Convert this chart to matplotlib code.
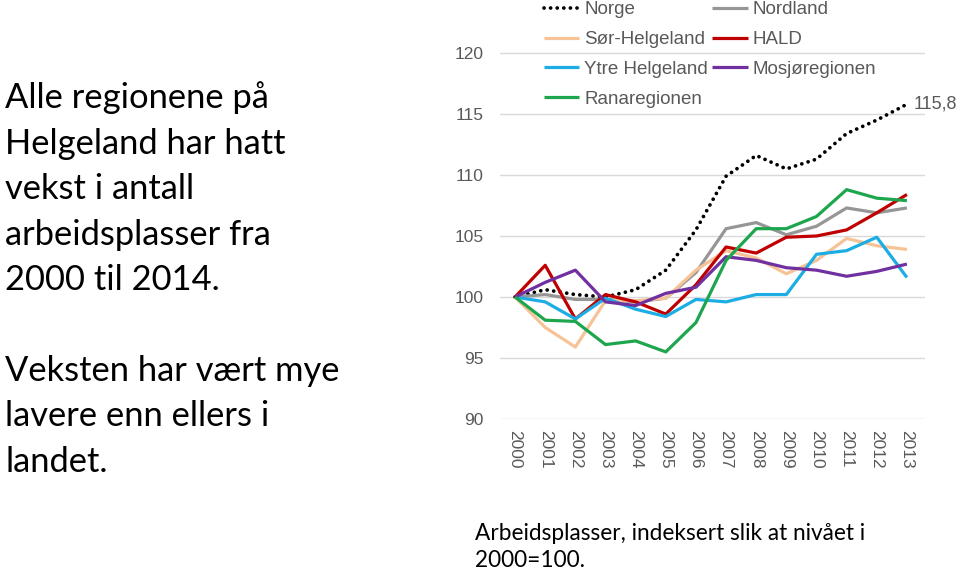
import matplotlib.pyplot as plt
import numpy as np

years = list(range(2000, 2014))

norge = [100, 100.6, 100.2, 100.0, 100.6, 102.2, 105.5, 109.9, 111.6, 110.5, 111.3, 113.4, 114.5, 115.8]
nordland = [100, 100.2, 99.8, 99.8, 99.6, 99.9, 102.0, 105.6, 106.1, 105.1, 105.8, 107.3, 106.9, 107.3]
sor_helgeland = [100, 97.5, 95.9, 99.7, 99.7, 99.9, 102.2, 103.8, 103.2, 101.9, 103.0, 104.8, 104.2, 103.9]
hald = [100, 102.6, 98.2, 100.2, 99.6, 98.6, 101.0, 104.1, 103.6, 104.9, 105.0, 105.5, 106.9, 108.4]
ytre_helgeland = [100, 99.6, 98.2, 99.9, 99.0, 98.4, 99.8, 99.6, 100.2, 100.2, 103.5, 103.8, 104.9, 101.6]
mosjoregionen = [100, 101.2, 102.2, 99.6, 99.3, 100.3, 100.8, 103.3, 103.0, 102.4, 102.2, 101.7, 102.1, 102.7]
ranaregionen = [100, 98.1, 98.0, 96.1, 96.4, 95.5, 97.9, 103.0, 105.6, 105.6, 106.6, 108.8, 108.1, 107.9]

y_ticks = [90, 95, 100, 105, 110, 115, 120]

series = [
    ("Norge", norge, "black", (0, (0.01, 1.75))),
    ("Nordland", nordland, "#969696", "-"),
    ("Sør-Helgeland", sor_helgeland, "#F7C396", "-"),
    ("HALD", hald, "#C00000", "-"),
    ("Ytre Helgeland", ytre_helgeland, "#1CADE4", "-"),
    ("Mosjøregionen", mosjoregionen, "#7030A0", "-"),
    ("Ranaregionen", ranaregionen, "#1EA64E", "-"),
]

left_lines = ["Alle regionene på", "Helgeland har hatt", "vekst i antall",
              "arbeidsplasser fra", "2000 til 2014.", "",
              "Veksten har vært mye", "lavere enn ellers i", "landet."]
caption_lines = ["Arbeidsplasser, indeksert slik at nivået i", "2000=100."]

plt.rcParams['font.family'] = ['Liberation Sans', 'DejaVu Sans']

fig = plt.figure(figsize=(9.6, 5.71), dpi=100)
ax = fig.add_axes([500 / 960, 1 - 419 / 571, 425 / 960, 419 / 571])

lines = {}
for name, vals, color, ls in series:
    dotted = name == "Norge"
    ln, = ax.plot(years, vals, color=color, linestyle=ls,
                  linewidth=2.7 if dotted else 2.3, label=name,
                  dash_capstyle='round', solid_capstyle='butt')
    lines[name] = ln

ax.annotate("115,8", xy=(years[-1], norge[-1]), xytext=(5, 0), textcoords='offset points',
            fontsize=13, color='#595959', va='center', ha='left', annotation_clip=False)

ax.set_xlim(1999.5, 2013.6)
ax.set_ylim(90, 90 + 419 / 12.2)
ax.set_yticks(y_ticks)
ax.set_xticks(years)
ax.set_xticklabels([str(y) for y in years], rotation=270, fontsize=12.5, color='#595959')
ax.tick_params(axis='y', labelsize=12.5, labelcolor='#595959', length=0, pad=12)
ax.tick_params(axis='x', length=0, pad=8)
ax.grid(axis='y', color='#D9D9D9', linewidth=1)
ax.set_axisbelow(True)
for s in ax.spines.values():
    s.set_visible(False)

order = ["Norge", "Sør-Helgeland", "Ytre Helgeland", "Ranaregionen",
         "Nordland", "HALD", "Mosjøregionen"]
leg = ax.legend([lines[n] for n in order], order, ncol=2, loc='upper left',
                bbox_to_anchor=(0.063, 1.037), frameon=False, fontsize=13.5,
                labelcolor='#595959', handlelength=1.9, handletextpad=0.27,
                columnspacing=0.22, labelspacing=0.67)

for i, txt in enumerate(left_lines):
    fig.text(5 / 960, 1 - (108 + i * 45.5) / 571, txt, fontsize=24.8,
             family=['Lato', 'DejaVu Sans'], va='baseline', ha='left', color='black')

for i, txt in enumerate(caption_lines):
    fig.text(475 / 960, 1 - (540 + i * 27) / 571, txt, fontsize=16.3,
             family=['Lato', 'DejaVu Sans'], va='baseline', ha='left', color='black')

plt.savefig("out.png", dpi=100)
